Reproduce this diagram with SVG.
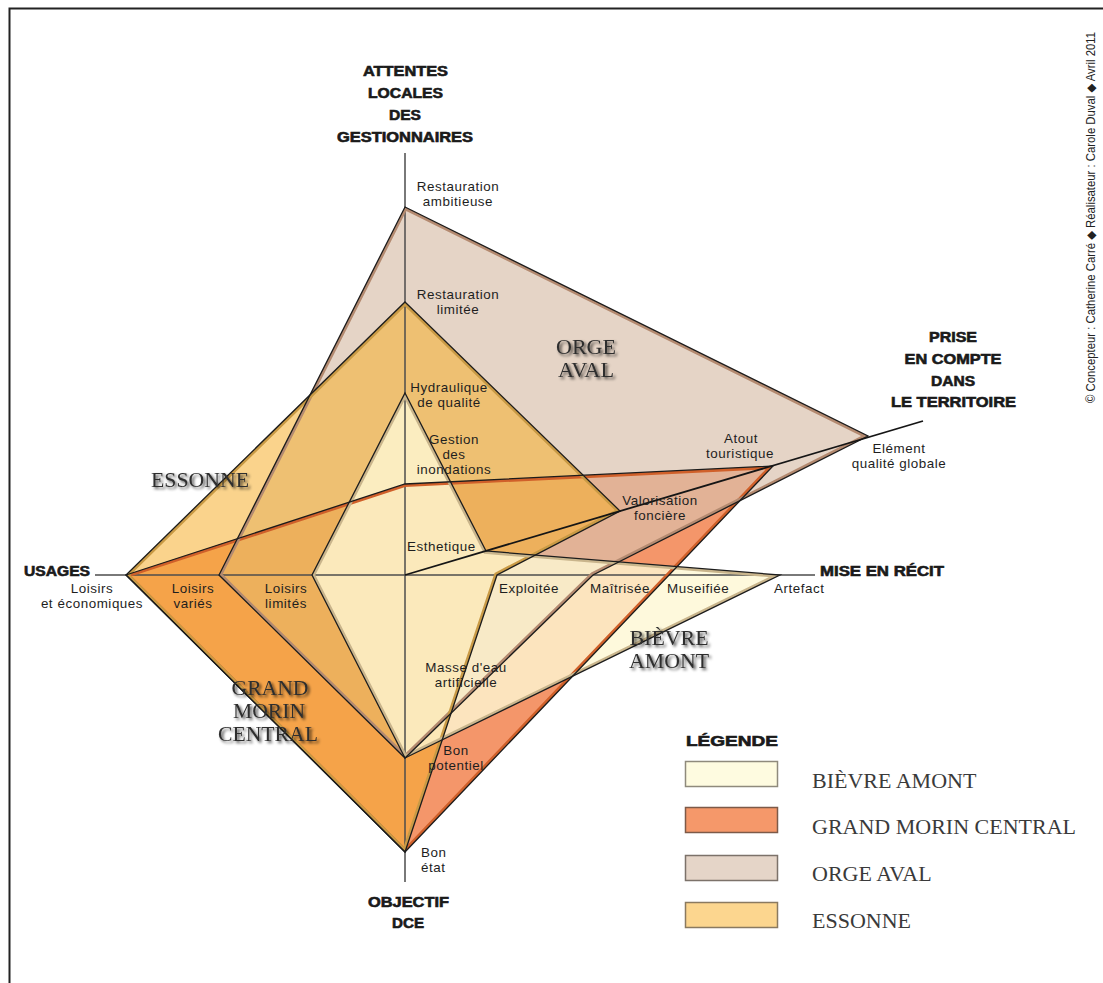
<svg xmlns="http://www.w3.org/2000/svg" xmlns:xlink="http://www.w3.org/1999/xlink" width="1103" height="983" viewBox="0 0 1103 983">
<style>
.t{font-family:"Liberation Sans",Arial,sans-serif;font-size:13.4px;letter-spacing:0.55px;fill:#1e1e1e}
.h{font-family:"Liberation Sans",Arial,sans-serif;font-weight:bold;font-size:14px;fill:#1a1a1a;stroke:#1a1a1a;stroke-width:0.6}
.s{font-family:"Liberation Serif","Times New Roman",serif;font-size:20.5px;fill:#2e2e2e}
.lg{font-family:"Liberation Serif","Times New Roman",serif;font-size:22px;fill:#3a3a3a}
.m{text-anchor:middle}
.ol{fill:none;stroke:#1c1c1c;stroke-width:1.3;stroke-linejoin:miter}
.band{fill:none;stroke-width:6;stroke-linejoin:miter}
.ax{stroke:#4d4d4d;stroke-width:1.5;fill:none}
</style>
<defs>
<polygon id="p-gm" points="126,575 405,484 773,466 405,852"/>
<polygon id="p-orge" points="405,207 868,436 593,575 405,758 219,575"/>
<polygon id="p-ess" points="405,302 620,511 497,575 405,852 126,575"/>
<polygon id="p-bie" points="405,393 486,551 780,575 405,758 312,575"/>
<clipPath id="c-gm"><polygon points="126,575 405,484 773,466 405,852"/></clipPath>
<clipPath id="c-orge"><polygon points="405,207 868,436 593,575 405,758 219,575"/></clipPath>
<clipPath id="c-ess"><polygon points="405,302 620,511 497,575 405,852 126,575"/></clipPath>
<clipPath id="c-bie"><polygon points="405,393 486,551 780,575 405,758 312,575"/></clipPath>
<filter id="sh" x="-20%" y="-30%" width="140%" height="170%">
<feGaussianBlur in="SourceAlpha" stdDeviation="1.7"/>
<feOffset dx="1.8" dy="2.2"/>
<feComponentTransfer><feFuncA type="linear" slope="0.75"/></feComponentTransfer>
<feMerge><feMergeNode/><feMergeNode in="SourceGraphic"/></feMerge>
</filter>
</defs>

<rect x="0" y="0" width="1103" height="983" fill="#ffffff"/>
<!-- frame -->
<polyline points="9.5,983 9.5,8.5 1103,8.5" fill="none" stroke="#222" stroke-width="2"/>

<!-- site fills -->
<g id="grand-morin-central"><use xlink:href="#p-gm" href="#p-gm" fill="#f4966a"/></g>
<g id="orge-aval"><use xlink:href="#p-orge" href="#p-orge" fill="#d8bfab" fill-opacity="0.68"/></g>
<g id="essonne"><use xlink:href="#p-ess" href="#p-ess" fill="#f5af2d" fill-opacity="0.55"/></g>
<g id="bievre-amont"><use xlink:href="#p-bie" href="#p-bie" fill="#fef7d3" fill-opacity="0.8"/></g>

<!-- axes -->
<g id="axes">
<line class="ax" x1="405" y1="153" x2="405" y2="882"/>
<line class="ax" x1="95" y1="575" x2="815" y2="575"/>
</g>

<!-- edges: inner bands and outlines -->
<g id="edges">
<use xlink:href="#p-gm" href="#p-gm" class="band" stroke="#d0602a" clip-path="url(#c-gm)"/>
<use xlink:href="#p-orge" href="#p-orge" class="band" stroke="#b48a70" clip-path="url(#c-orge)"/>
<use xlink:href="#p-ess" href="#p-ess" class="band" stroke="#c99a45" clip-path="url(#c-ess)"/>
<use xlink:href="#p-bie" href="#p-bie" class="band" stroke="#c9b58c" clip-path="url(#c-bie)"/>
<use xlink:href="#p-gm" href="#p-gm" class="ol"/>
<use xlink:href="#p-orge" href="#p-orge" class="ol"/>
<use xlink:href="#p-ess" href="#p-ess" class="ol"/>
<use xlink:href="#p-bie" href="#p-bie" class="ol"/>
<line x1="405" y1="575" x2="923" y2="421" stroke="#151515" stroke-width="1.8"/>
</g>

<!-- axis titles -->
<g id="axis-titles">
<text class="h m" x="405.5" y="76" textLength="85" lengthAdjust="spacingAndGlyphs">ATTENTES</text>
<text class="h m" x="405.5" y="98" textLength="75" lengthAdjust="spacingAndGlyphs">LOCALES</text>
<text class="h m" x="405" y="120" textLength="32" lengthAdjust="spacingAndGlyphs">DES</text>
<text class="h m" x="405" y="142" textLength="136" lengthAdjust="spacingAndGlyphs">GESTIONNAIRES</text>
<text class="h m" x="953" y="342" textLength="48" lengthAdjust="spacingAndGlyphs">PRISE</text>
<text class="h m" x="953" y="364" textLength="97" lengthAdjust="spacingAndGlyphs">EN COMPTE</text>
<text class="h m" x="953" y="386" textLength="44" lengthAdjust="spacingAndGlyphs">DANS</text>
<text class="h m" x="953.5" y="407" textLength="125" lengthAdjust="spacingAndGlyphs">LE TERRITOIRE</text>
<text class="h" x="24" y="576" textLength="66" lengthAdjust="spacingAndGlyphs">USAGES</text>
<text class="h" x="820" y="576" textLength="124" lengthAdjust="spacingAndGlyphs">MISE EN RÉCIT</text>
<text class="h m" x="408.5" y="907" textLength="81" lengthAdjust="spacingAndGlyphs">OBJECTIF</text>
<text class="h m" x="408" y="928" textLength="32" lengthAdjust="spacingAndGlyphs">DCE</text>
</g>

<!-- axis value labels -->
<g id="values">
<text class="t m"><tspan x="458" y="190.5">Restauration</tspan><tspan x="458" y="205.5">ambitieuse</tspan></text>
<text class="t m"><tspan x="458" y="298.5">Restauration</tspan><tspan x="458" y="313.5">limitée</tspan></text>
<text class="t m"><tspan x="449" y="392">Hydraulique</tspan><tspan x="449" y="407">de qualité</tspan></text>
<text class="t m"><tspan x="454" y="444">Gestion</tspan><tspan x="454" y="459">des</tspan><tspan x="454" y="474">inondations</tspan></text>
<text class="t" x="407" y="551">Esthetique</text>
<text class="t m"><tspan x="741" y="442.5">Atout</tspan><tspan x="740" y="457.5">touristique</tspan></text>
<text class="t m"><tspan x="660" y="505">Valorisation</tspan><tspan x="660" y="520">foncière</tspan></text>
<text class="t m"><tspan x="899" y="453">Elément</tspan><tspan x="899" y="468">qualité globale</tspan></text>
<text class="t m"><tspan x="92" y="592.5">Loisirs</tspan><tspan x="92" y="607.5">et économiques</tspan></text>
<text class="t m"><tspan x="193" y="592.5">Loisirs</tspan><tspan x="193" y="607.5">variés</tspan></text>
<text class="t m"><tspan x="286" y="592.5">Loisirs</tspan><tspan x="286" y="607.5">limités</tspan></text>
<text class="t" x="499" y="593">Exploitée</text>
<text class="t" x="590" y="593">Maîtrisée</text>
<text class="t" x="667" y="593">Museifiée</text>
<text class="t" x="774" y="593">Artefact</text>
<text class="t m"><tspan x="466" y="671.5">Masse d'eau</tspan><tspan x="466" y="686.5">artificielle</tspan></text>
<text class="t m"><tspan x="456" y="754.5">Bon</tspan><tspan x="456" y="769.5">potentiel</tspan></text>
<text class="t"><tspan x="421" y="856.5">Bon</tspan><tspan x="421" y="871.5">état</tspan></text>
</g>

<!-- site names -->
<g id="site-names" filter="url(#sh)">
<text class="s" x="151" y="487" textLength="98" lengthAdjust="spacingAndGlyphs">ESSONNE</text>
<text class="s m" x="586" y="354" textLength="60" lengthAdjust="spacingAndGlyphs">ORGE</text>
<text class="s m" x="586" y="377" textLength="56" lengthAdjust="spacingAndGlyphs">AVAL</text>
<text class="s m" x="669" y="645" textLength="79" lengthAdjust="spacingAndGlyphs">BIÈVRE</text>
<text class="s m" x="669" y="668" textLength="80" lengthAdjust="spacingAndGlyphs">AMONT</text>
<text class="s m" x="270" y="695" textLength="77" lengthAdjust="spacingAndGlyphs">GRAND</text>
<text class="s m" x="269" y="718" textLength="72" lengthAdjust="spacingAndGlyphs">MORIN</text>
<text class="s m" x="268" y="741" textLength="100" lengthAdjust="spacingAndGlyphs">CENTRAL</text>
</g>

<!-- legend -->
<g id="legend">
<text class="h" x="686" y="746" textLength="92" lengthAdjust="spacingAndGlyphs">LÉGENDE</text>
<g id="legend-bievre"><rect x="685.5" y="761.5" width="92" height="25" fill="#fefbe0" stroke="#8f8a7c" stroke-width="1.5"/><text class="lg" x="812" y="788">BIÈVRE AMONT</text></g>
<g id="legend-gm"><rect x="685.5" y="807.5" width="92" height="25" fill="#f5986a" stroke="#7d5a48" stroke-width="1.5"/><text class="lg" x="812" y="834">GRAND MORIN CENTRAL</text></g>
<g id="legend-orge"><rect x="685.5" y="855.5" width="92" height="25" fill="#e5d5c8" stroke="#7c726a" stroke-width="1.5"/><text class="lg" x="812" y="881">ORGE AVAL</text></g>
<g id="legend-essonne"><rect x="685.5" y="902.5" width="92" height="25" fill="#fcd68f" stroke="#8a7a60" stroke-width="1.5"/><text class="lg" x="812" y="928">ESSONNE</text></g>
</g>

<!-- credits -->
<text transform="translate(1095,403) rotate(-90)" font-family="'Liberation Sans',Arial,'DejaVu Sans',sans-serif" font-size="12" fill="#222" textLength="371" lengthAdjust="spacingAndGlyphs">© Concepteur : Catherine Carré ◆ Réalisateur : Carole Duval ◆ Avril 2011</text>
</svg>
